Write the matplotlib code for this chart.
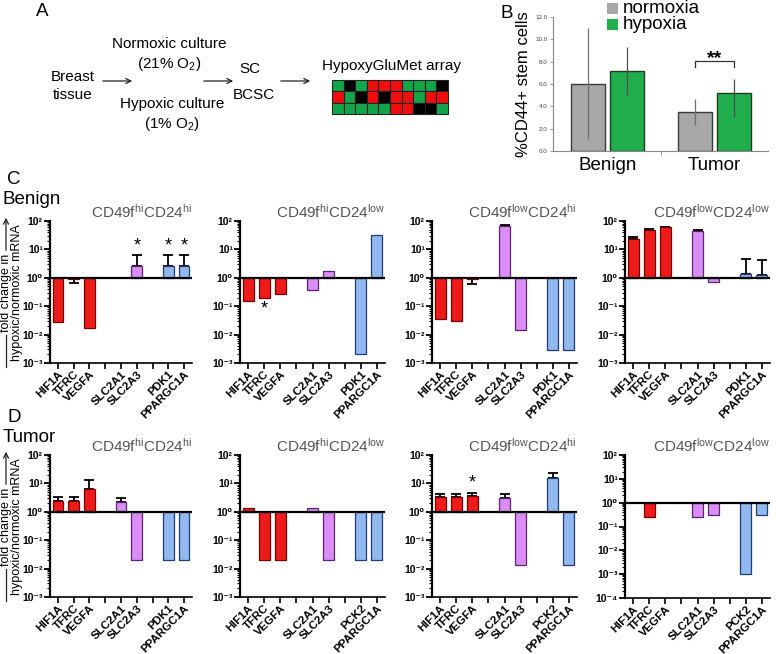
import numpy as np
import matplotlib
matplotlib.use('Agg')
import matplotlib.pyplot as plt
from matplotlib.patches import Rectangle, FancyArrowPatch
from matplotlib.lines import Line2D
from matplotlib.ticker import LogLocator, FuncFormatter, NullFormatter

plt.rcParams['font.family'] = ['Liberation Sans', 'DejaVu Sans']
plt.rcParams['mathtext.fontset'] = 'custom'
plt.rcParams['mathtext.rm'] = 'Liberation Sans'
plt.rcParams['mathtext.bf'] = 'Liberation Sans:bold'
plt.rcParams['mathtext.it'] = 'Liberation Sans:italic'

nan = np.nan

# ---------------- data ----------------
# Panel A array pattern (G=green, R=red, K=black)
array_rows = ["GKGRRRGGGK",
              "RGKRKRRGRR",
              "GGGGGRRKKG"]

# Panel B
b_groups = ['Benign', 'Tumor']
b_normoxia = [6.0, 3.52]
b_normoxia_lo = [1.05, 2.33]
b_normoxia_hi = [11.0, 4.65]
b_hypoxia = [7.19, 5.16]
b_hypoxia_lo = [5.05, 3.07]
b_hypoxia_hi = [9.3, 6.47]

# Panels C / D
genes_pdk = ['HIF1A', 'TFRC', 'VEGFA', '', 'SLC2A1', 'SLC2A3', '', 'PDK1', 'PPARGC1A']
genes_pck = ['HIF1A', 'TFRC', 'VEGFA', '', 'SLC2A1', 'SLC2A3', '', 'PCK2', 'PPARGC1A']
gene_group = ['r', 'r', 'r', None, 'v', 'v', None, 'b', 'b']

titles = [r'CD49f$^{\rm hi}$CD24$^{\rm hi}$', r'CD49f$^{\rm hi}$CD24$^{\rm low}$',
          r'CD49f$^{\rm low}$CD24$^{\rm hi}$', r'CD49f$^{\rm low}$CD24$^{\rm low}$']

c1_vals = [0.027, 0.9, 0.017, nan, nan, 2.7, nan, 2.7, 2.7]
c1_errs = [nan, 0.65, nan, nan, nan, 6.5, nan, 6.5, 6.5]
c2_vals = [0.15, 0.19, 0.27, nan, 0.37, 1.7, nan, 0.002, 33]
c2_errs = [nan] * 9
c3_vals = [0.035, 0.031, 0.92, nan, 68, 0.014, nan, 0.0028, 0.0028]
c3_errs = [nan, nan, 0.6, nan, 74, nan, nan, nan, nan]
c4_vals = [23, 50, 60, nan, 45, 0.69, nan, 1.4, 1.27]
c4_errs = [28, 53, 64, nan, 49, nan, nan, 4.7, 4.4]

d1_vals = [2.4, 2.4, 6.5, nan, 2.3, 0.02, nan, 0.02, 0.02]
d1_errs = [3.2, 3.2, 13, nan, 3.1, nan, nan, nan, nan]
d2_vals = [1.37, 0.02, 0.02, nan, 1.35, 0.02, nan, 0.02, 0.02]
d2_errs = [nan] * 9
d3_vals = [3.2, 3.2, 3.5, nan, 3.1, 0.013, nan, 15, 0.013]
d3_errs = [4.2, 4.2, 4.5, nan, 4.1, nan, nan, 24, nan]
d4_vals = [nan, 0.25, nan, nan, 0.25, 0.3, nan, 0.001, 0.3]
d4_errs = [nan] * 9

# significance stars: index -> y
c1_stars = {5: 13, 7: 13, 8: 13}
c2_stars = {1: 0.08}
d3_stars = {2: 10}

SUP = str.maketrans('-0123456789', '⁻⁰¹²³⁴⁵⁶⁷⁸⁹')

# ---------------- figure ----------------
W, H = 778, 654
fig = plt.figure(figsize=(W / 100, H / 100), dpi=100)

ov = fig.add_axes([0, 0, 1, 1])
ov.set_xlim(0, W)
ov.set_ylim(H, 0)
ov.axis('off')


def px_axes(l, t, r, b):
    a = fig.add_axes([l / W, 1 - b / H, (r - l) / W, (b - t) / H])
    a.patch.set_visible(False)
    return a


def arrow(x0, y0, x1, y1, lw=0.9):
    ov.add_patch(FancyArrowPatch((x0, y0), (x1, y1), arrowstyle='->', mutation_scale=9,
                                 lw=lw, color='#222222'))


# ---------------- Panel A ----------------
ov.text(42, 12, 'A', fontsize=13.5, ha='center', va='center')
ov.text(73, 77, 'Breast', fontsize=11, ha='center', va='center')
ov.text(73, 95, 'tissue', fontsize=11, ha='center', va='center')
arrow(100, 81, 135, 81)
ov.text(169, 44, 'Normoxic culture', fontsize=11, ha='center', va='center')
ov.text(169, 64, '(21% O$_2$)', fontsize=11, ha='center', va='center')
ov.text(172, 104, 'Hypoxic culture', fontsize=11, ha='center', va='center')
ov.text(172, 124, '(1% O$_2$)', fontsize=11, ha='center', va='center')
arrow(201, 81, 236, 81)
ov.text(250, 69, 'SC', fontsize=11, ha='center', va='center')
ov.text(254, 95, 'BCSC', fontsize=11, ha='center', va='center')
arrow(278, 81, 313, 81)
ov.text(322, 66, 'HypoxyGluMet array', fontsize=11, ha='left', va='center')
cmap = {'G': '#13a54a', 'R': '#f00d0d', 'K': '#000000'}
gx0, gy0, cw, ch = 332, 80, 11.6, 11.3
for r, row in enumerate(array_rows):
    for c, ch_ in enumerate(row):
        ov.add_patch(Rectangle((gx0 + c * cw, gy0 + r * ch), cw, ch, facecolor=cmap[ch_],
                               edgecolor='#222222', lw=0.8))

# ---------------- Panel B ----------------
ov.text(507, 13, 'B', fontsize=13.5, ha='center', va='center')
bx = px_axes(553, 17, 768, 151)
xb = np.arange(len(b_groups))
off, bw = 0.183, 0.32
bn = np.array(b_normoxia)
bh = np.array(b_hypoxia)
bx.bar(xb - off, bn, bw, color='#a8a8a8', edgecolor='#3a3a3a', lw=1.0, zorder=2)
bx.bar(xb + off, bh, bw, color='#1fae4b', edgecolor='#1f3a25', lw=1.0, zorder=2)
bx.errorbar(xb - off, bn, yerr=[bn - np.array(b_normoxia_lo), np.array(b_normoxia_hi) - bn],
            fmt='none', ecolor='#707070', elinewidth=0.9, capsize=0, zorder=3)
bx.errorbar(xb + off, bh, yerr=[bh - np.array(b_hypoxia_lo), np.array(b_hypoxia_hi) - bh],
            fmt='none', ecolor='#505050', elinewidth=0.9, capsize=0, zorder=3)
bx.set_xlim(-0.51, 1.5)
bx.set_ylim(0, 12)
bx.set_yticks(np.arange(0, 12.1, 2))
bx.set_yticklabels(['%.1f' % v for v in np.arange(0, 12.1, 2)], fontsize=4.5, color='#444444')
bx.set_xticks(xb)
bx.set_xticklabels(b_groups, fontsize=13.5)
bx.tick_params(axis='x', length=0, pad=4)
bx.set_xticks([0.5], minor=True)
bx.tick_params(axis='x', which='minor', length=3, color='#888888')
bx.tick_params(axis='y', length=2, width=0.6, color='#888888', pad=2)
for s in ['top', 'right']:
    bx.spines[s].set_visible(False)
for s in ['left', 'bottom']:
    bx.spines[s].set_color('#888888')
    bx.spines[s].set_linewidth(0.8)
bx.set_ylabel('%CD44+ stem cells', fontsize=12)
bx.yaxis.set_label_coords(-0.1, 0.5)
# significance bracket
bx.plot([1 - off, 1 - off, 1 + off, 1 + off], [7.55, 8.05, 8.05, 7.55], color='#333333', lw=0.9)
bx.text(1, 8.25, '**', fontsize=14, ha='center', va='center', fontweight='bold')
# legend
ov.add_patch(Rectangle((607, 3), 11, 11, facecolor='#a8a8a8', edgecolor='none'))
ov.add_patch(Rectangle((607, 18.5), 11, 11, facecolor='#1fae4b', edgecolor='none'))
ov.text(623, 8.5, 'normoxia', fontsize=13.5, ha='left', va='center')
ov.text(623, 24.5, 'hypoxia', fontsize=13.5, ha='left', va='center')

# ---------------- Panels C / D ----------------
fill = {'r': '#ee1b1b', 'v': '#d98df5', 'b': '#92b9ee'}
edge = {'r': '#7a0000', 'v': '#5b2470', 'b': '#223c78'}


def log_label(y, p):
    return '10' + str(int(round(np.log10(y)))).translate(SUP)


def draw_panel(ax, labels, vals, errs, title, ymin, stars):
    ax.set_yscale('log')
    for i, (v, e) in enumerate(zip(vals, errs)):
        if np.isnan(v):
            continue
        g = gene_group[i]
        ax.bar(i, v - 1, bottom=1, width=0.68, color=fill[g], edgecolor=edge[g], lw=0.9, zorder=3)
        if not np.isnan(e):
            yerr = [[0], [e - v]] if e > v else [[v - e], [0]]
            ax.errorbar(i, v, yerr=yerr, fmt='none', ecolor='black', elinewidth=1.3,
                        capsize=3.5, capthick=1.3, zorder=2)
    for i, y in stars.items():
        ax.text(i, y, '*', fontsize=13, ha='center', va='center')
    ax.axhline(1, color='black', lw=1.6, zorder=4)
    ax.set_xlim(-0.5, 8.5)
    ax.set_ylim(ymin, 1e2)
    ax.set_xticks(range(9))
    ax.set_xticklabels(labels, rotation=45, ha='right', rotation_mode='anchor',
                       fontsize=8.2, fontweight='bold')
    ax.yaxis.set_major_locator(LogLocator(base=10, numticks=12))
    ax.yaxis.set_minor_locator(LogLocator(base=10, subs=np.arange(2, 10), numticks=12))
    ax.yaxis.set_minor_formatter(NullFormatter())
    ax.yaxis.set_major_formatter(FuncFormatter(log_label))
    ax.tick_params(axis='y', which='major', length=4, width=1.3, labelsize=7.5, pad=1.2)
    ax.tick_params(axis='y', which='minor', length=2, width=0.8)
    ax.tick_params(axis='x', length=4, width=1.2, pad=0.5)
    for s in ['top', 'right']:
        ax.spines[s].set_visible(False)
    ax.spines['left'].set_linewidth(1.6)
    ax.spines['bottom'].set_linewidth(1.2)
    ax.set_title(title, loc='right', fontsize=11, color='#555555', pad=2)


col_l = [50, 240, 432, 625]
col_r = [192, 385, 577, 770]
rowC = (221, 363)
rowD = (455, 597)

all_axes = []
c_data = [(c1_vals, c1_errs, c1_stars), (c2_vals, c2_errs, c2_stars),
          (c3_vals, c3_errs, {}), (c4_vals, c4_errs, {})]
for k, (v, e, s) in enumerate(c_data):
    ax = px_axes(col_l[k], rowC[0], col_r[k], rowC[1])
    draw_panel(ax, genes_pdk, v, e, titles[k], 1e-3, s)
    all_axes.append(ax)

d_data = [(d1_vals, d1_errs, {}, genes_pdk, 1e-3), (d2_vals, d2_errs, {}, genes_pck, 1e-3),
          (d3_vals, d3_errs, d3_stars, genes_pck, 1e-3), (d4_vals, d4_errs, {}, genes_pck, 1e-4)]
for k, (v, e, s, g, ymin) in enumerate(d_data):
    t, b = rowD
    ax = px_axes(col_l[k], t, col_r[k], b + (1 if ymin == 1e-4 else 0))
    draw_panel(ax, g, v, e, titles[k], ymin, s)
    all_axes.append(ax)

# row labels and y-axis labels
for lab, name, yc, ytop in [('C', 'Benign', 293, 180), ('D', 'Tumor', 527, 418)]:
    ov.text(14, ytop, lab, fontsize=13.5, ha='center', va='center')
    ov.text(3, ytop + 20, name, fontsize=13.5, ha='left', va='center')
    ov.text(6, yc, 'fold change in', fontsize=9, rotation=90, ha='center', va='center')
    ov.text(17.5, yc, 'hypoxic/normoxic mRNA', fontsize=9, rotation=90, ha='center', va='center')
    ov.add_line(Line2D([6, 6], [yc + 74, yc + 42], color='#222222', lw=0.9))
    ov.add_patch(FancyArrowPatch((6, yc - 40), (6, yc - 78), arrowstyle='->', mutation_scale=9,
                                 lw=0.9, color='#222222'))

fig.canvas.draw()
for ax in all_axes:
    for t in ax.get_yticklabels():
        t.set_fontweight('bold')

fig.savefig('out.png', dpi=100)
